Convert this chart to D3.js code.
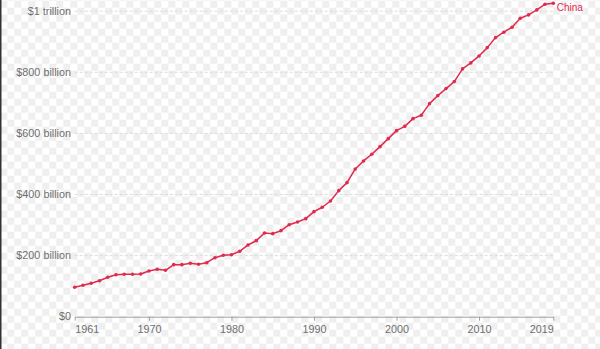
<!DOCTYPE html>
<html><head><meta charset="utf-8">
<script src="https://cdn.jsdelivr.net/npm/d3@7"></script>
<style>body{margin:0;overflow:hidden;background:#fff}svg{display:block}</style>
</head><body>
<svg id="c" width="600" height="349"></svg>
<script>
const years = d3.range(1961, 2020);
const values = [96.3,102.8,109.4,117.9,129.0,137.5,138.8,138.8,139.8,149.6,
155.2,151.9,170.3,170.3,174.9,171.6,176.8,193.2,201.0,203.0,
214.1,234.8,248.9,274.1,271.8,281.6,301.2,310.1,320.9,343.8,
358.2,378.8,412.6,438.8,483.6,509.8,531.8,556.7,582.8,609.0,
623.0,648.3,659.5,697.4,723.6,746.6,769.5,811.1,830.7,853.6,
880.8,913.6,931.2,947.6,977.1,987.9,1004.3,1022.9,1026.2];
const yTicks = [0,200,400,600,800,1000];
const yTickLabels = ["$0","$200 billion","$400 billion","$600 billion","$800 billion","$1 trillion"];
const xTicks = [1961,1970,1980,1990,2000,2010,2019];
const seriesName = "China";

const svg = d3.select("#c");
const W = 600, H = 349;
const color = "#e02a4e";

// checkerboard background
const defs = svg.append("defs");
const pat = defs.append("pattern").attr("id","chk").attr("width",14).attr("height",14)
  .attr("patternUnits","userSpaceOnUse").attr("x",0.3).attr("y",0.7);
pat.append("rect").attr("width",14).attr("height",14).attr("fill","#ffffff");
pat.append("rect").attr("width",7).attr("height",7).attr("fill","#efefef");
pat.append("rect").attr("x",7).attr("y",7).attr("width",7).attr("height",7).attr("fill","#efefef");
svg.append("rect").attr("width",W).attr("height",H).attr("fill","url(#chk)");
svg.append("rect").attr("x",0).attr("y",0).attr("width",1.5).attr("height",H).attr("fill","#333");

const x = d3.scaleLinear().domain([1961,2019]).range([74.7,553.3]);
const y = d3.scaleLinear().domain([0,1000]).range([316.7,11.2]);

// grid
const grid = svg.append("g");
grid.selectAll("line").data(yTicks.filter(d=>d>0)).join("line")
  .attr("x1",74.7).attr("x2",553.3)
  .attr("y1",d=>y(d)).attr("y2",d=>y(d))
  .attr("stroke","#dcdcdc").attr("stroke-width",1).attr("stroke-dasharray","3,2");

// y labels
const fontFam = "'Liberation Sans', Arial, Helvetica, sans-serif";
svg.append("g").selectAll("text").data(yTicks).join("text")
  .attr("x",71).attr("y",d=>y(d)).attr("dy","0.35em")
  .attr("text-anchor","end").attr("font-family",fontFam).attr("font-size","10.8px")
  .attr("fill","#6e6e6e").text((d,i)=>yTickLabels[i]);

// x axis
const xAxis = d3.axisBottom(x).tickValues(xTicks).tickFormat(d3.format("d")).tickSize(4).tickSizeOuter(0);
const gx = svg.append("g").attr("transform",`translate(0,${y(0)})`).call(xAxis);
gx.select(".domain").attr("stroke","#a0a0a0");
gx.selectAll(".tick line").attr("stroke","#a0a0a0");
gx.selectAll(".tick text").attr("font-family",fontFam).attr("font-size","10.8px")
  .attr("fill","#6e6e6e").attr("dy","0.9em")
  .attr("text-anchor",(d,i)=> i===0 ? "start" : (i===xTicks.length-1 ? "end" : "middle"));

// line
const data = years.map((yr,i)=>({yr, v: values[i]}));
const line = d3.line().x(d=>x(d.yr)).y(d=>y(d.v));
svg.append("path").datum(data).attr("d",line).attr("fill","none")
  .attr("stroke",color).attr("stroke-width",1.5).attr("stroke-linejoin","round");
svg.append("g").selectAll("circle").data(data).join("circle")
  .attr("cx",d=>x(d.yr)).attr("cy",d=>y(d.v)).attr("r",1.8).attr("fill",color);

// label
const last = data[data.length-1];
svg.append("text").attr("x",x(last.yr)+3.5).attr("y",y(last.v)+4)
  .attr("dy","0.35em").attr("font-family",fontFam).attr("font-size","10px")
  .attr("fill",color).text(seriesName);
</script>
</body></html>
